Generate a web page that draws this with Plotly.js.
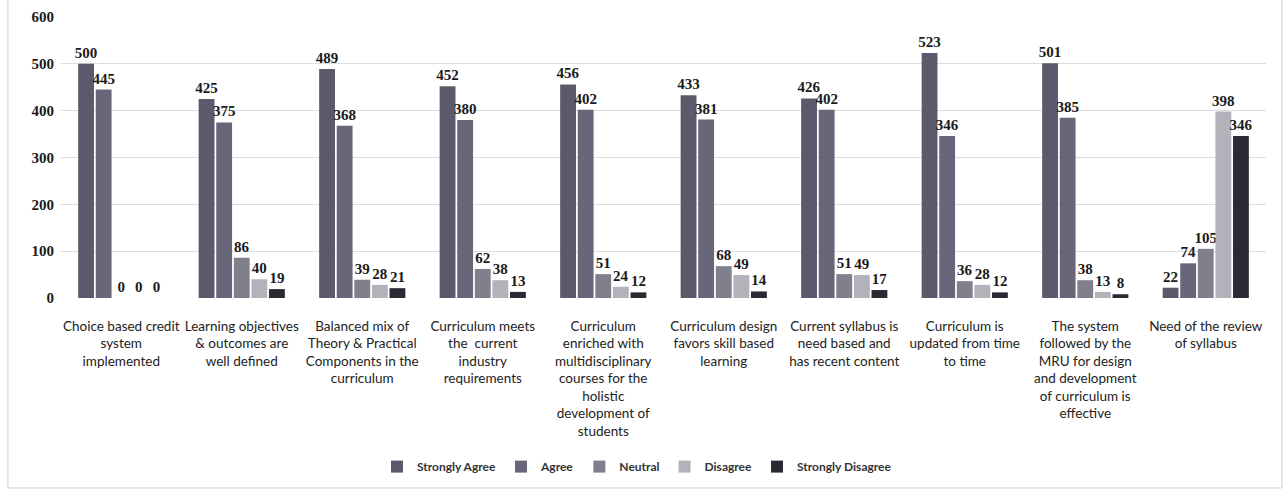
<!DOCTYPE html>
<html>
<head>
<meta charset="utf-8">
<script src="https://cdn.plot.ly/plotly-3.0.1.min.js"></script>
<style>html,body{margin:0;padding:0;background:#fff;}#chart{width:1286px;height:493px;}</style>
</head>
<body>
<div id="chart"></div>
<script>
const categories = [
  "Choice based credit<br>system<br>implemented",
  "Learning objectives<br>& outcomes are<br>well defined",
  "Balanced mix of<br>Theory & Practical<br>Components in the<br>curriculum",
  "Curriculum meets<br>the  current<br>industry<br>requirements",
  "Curriculum<br>enriched with<br>multidisciplinary<br>courses for the<br>holistic<br>development of<br>students",
  "Curriculum design<br>favors skill based<br>learning",
  "Current syllabus is<br>need based and<br>has recent content",
  "Curriculum is<br>updated from time<br>to time",
  "The system<br>followed by the<br>MRU for design<br>and development<br>of curriculum is<br>effective",
  "Need of the review<br>of syllabus"
];
const seriesNames = ["Strongly Agree", "Agree", "Neutral", "Disagree", "Strongly Disagree"];
const stronglyAgree    = [500, 425, 489, 452, 456, 433, 426, 523, 501, 22];
const agree            = [445, 375, 368, 380, 402, 381, 402, 346, 385, 74];
const neutral          = [0, 86, 39, 62, 51, 68, 51, 36, 38, 105];
const disagree         = [0, 40, 28, 38, 24, 49, 49, 28, 13, 398];
const stronglyDisagree = [0, 19, 21, 13, 12, 14, 17, 12, 8, 346];
const yTicks = [0, 100, 200, 300, 400, 500, 600];

const colors = ["#5a5a6c", "#676779", "#80808c", "#b2b2ba", "#2a2a34"];
const allValues = [stronglyAgree, agree, neutral, disagree, stronglyDisagree];
const xIdx = categories.map((c, i) => i);

const traces = allValues.map((vals, k) => ({
  type: "bar",
  name: seriesNames[k],
  x: xIdx,
  y: vals,
  marker: { color: colors[k], line: { width: 0 } },
  text: vals.map(String),
  textposition: "outside",
  constraintext: "none",
  cliponaxis: false,
  textfont: { family: "Liberation Serif", size: 15, color: "#1a1a1a", weight: "bold" },
  hoverinfo: "skip"
}));

const layout = {
  width: 1286,
  height: 493,
  margin: { l: 61, r: 20, t: 17, b: 195 },
  paper_bgcolor: "#ffffff",
  plot_bgcolor: "#ffffff",
  barmode: "group",
  bargap: 0.27,
  bargroupgap: 0.1,
  showlegend: true,
  legend: {
    orientation: "h",
    x: 0.478, xanchor: "center",
    y: -0.6, yanchor: "middle",
    font: { family: "Lato", size: 12, color: "#333333", weight: "bold" },
    itemwidth: 30,
    traceorder: "normal"
  },
  xaxis: {
    tickmode: "array",
    tickvals: xIdx,
    ticktext: categories,
    range: [-0.5, 9.5],
    showgrid: false,
    zeroline: false,
    showline: false,
    ticks: "",
    ticklabelstandoff: 18,
    tickfont: { family: "Lato", size: 13.5, color: "#222222" },
    tickangle: 0,
    automargin: false
  },
  yaxis: {
    range: [0, 600],
    tickmode: "array",
    tickvals: yTicks,
    ticktext: yTicks.map(String),
    showgrid: true,
    gridcolor: "#dddddd",
    gridwidth: 1,
    zeroline: false,
    showline: false,
    ticks: "",
    ticklabelstandoff: 6,
    tickfont: { family: "Liberation Serif", size: 15, color: "#1a1a1a", weight: "bold" },
    automargin: false
  },
  shapes: [{
    type: "rect", xref: "paper", yref: "paper",
    x0: -0.044, x1: 1.0133, y0: -0.676, y1: 1.2,
    line: { color: "#d0d0d0", width: 1 }, fillcolor: "rgba(0,0,0,0)", layer: "below"
  }]
};

Plotly.newPlot("chart", traces, layout, { staticPlot: true, displayModeBar: false });
</script>
</body>
</html>
